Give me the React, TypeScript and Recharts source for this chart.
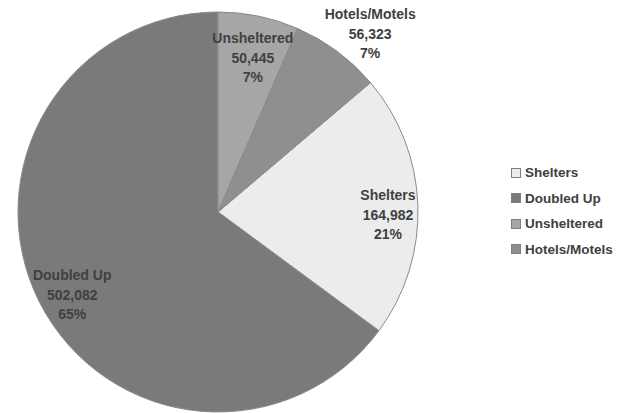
import { PieChart, Pie, Cell, Legend } from "recharts";

const CATEGORIES = ["Shelters", "Doubled Up", "Unsheltered", "Hotels/Motels"];
const VALUES = [164982, 502082, 50445, 56323];
const PERCENTS = ["21%", "65%", "7%", "7%"];
const COLORS = ["#ececec", "#7a7a7a", "#a6a6a6", "#8f8f8f"];
// label placement: share of the radius, and a small turn (degrees) off the slice middle
const LABEL_RADIUS = [0.85, 0.84, 0.79, 1.17];
const LABEL_TURN = [-3, 3, -1, -4];

const data = CATEGORIES.map((name, i) => ({ name, value: VALUES[i], pct: PERCENTS[i] }));

const total = VALUES.reduce((a, b) => a + b, 0);
// Excel puts the first slice so that the last two end at 12 o'clock
const offset = ((VALUES[2] + VALUES[3]) / total) * 360;
const START = 90 - offset;
const END = START - 360;

const RAD = Math.PI / 180;
const FONT = "'Liberation Sans', Arial, sans-serif";

function renderLabel(props: any) {
  const { cx, cy, midAngle, outerRadius, index } = props;
  const r = outerRadius * LABEL_RADIUS[index];
  const a = midAngle + LABEL_TURN[index];
  const x = cx + r * Math.cos(-a * RAD);
  const y = cy + r * Math.sin(-a * RAD);
  const d = data[index];
  return (
    <text
      x={x}
      y={y}
      textAnchor="middle"
      fill="#404040"
      fontFamily={FONT}
      fontWeight="bold"
      fontSize={14}
    >
      <tspan x={x} dy={-15}>{d.name}</tspan>
      <tspan x={x} dy={20}>{d.value.toLocaleString("en-US")}</tspan>
      <tspan x={x} dy={19}>{d.pct}</tspan>
    </text>
  );
}

function LegendBox() {
  return (
    <div style={{ fontFamily: FONT, fontWeight: "bold", fontSize: 13.5, color: "#404040" }}>
      {CATEGORIES.map((name, i) => (
        <div key={name} style={{ display: "flex", alignItems: "center", height: 25.5 }}>
          <span
            style={{
              display: "inline-block",
              width: 8,
              height: 8,
              background: COLORS[i],
              border: "1px solid #7f7f7f",
              marginRight: 4,
            }}
          />
          {name}
        </div>
      ))}
    </div>
  );
}

export default function App() {
  return (
    <div style={{ width: 622, height: 413, background: "#fff" }}>
      <style>{`body{margin:0}`}</style>
      <PieChart width={622} height={413}>
        <Pie
          data={data}
          dataKey="value"
          nameKey="name"
          cx={213}
          cy={207}
          outerRadius={200}
          startAngle={START}
          endAngle={END}
          stroke="#8a8a8a"
          strokeWidth={1}
          label={renderLabel}
          labelLine={false}
          isAnimationActive={false}
        >
          {data.map((d, i) => (
            <Cell key={d.name} fill={COLORS[i]} />
          ))}
        </Pie>
        <Legend
          layout="vertical"
          verticalAlign="top"
          align="right"
          wrapperStyle={{ top: 160, left: 511, width: 111 }}
          content={() => <LegendBox />}
        />
      </PieChart>
    </div>
  );
}
